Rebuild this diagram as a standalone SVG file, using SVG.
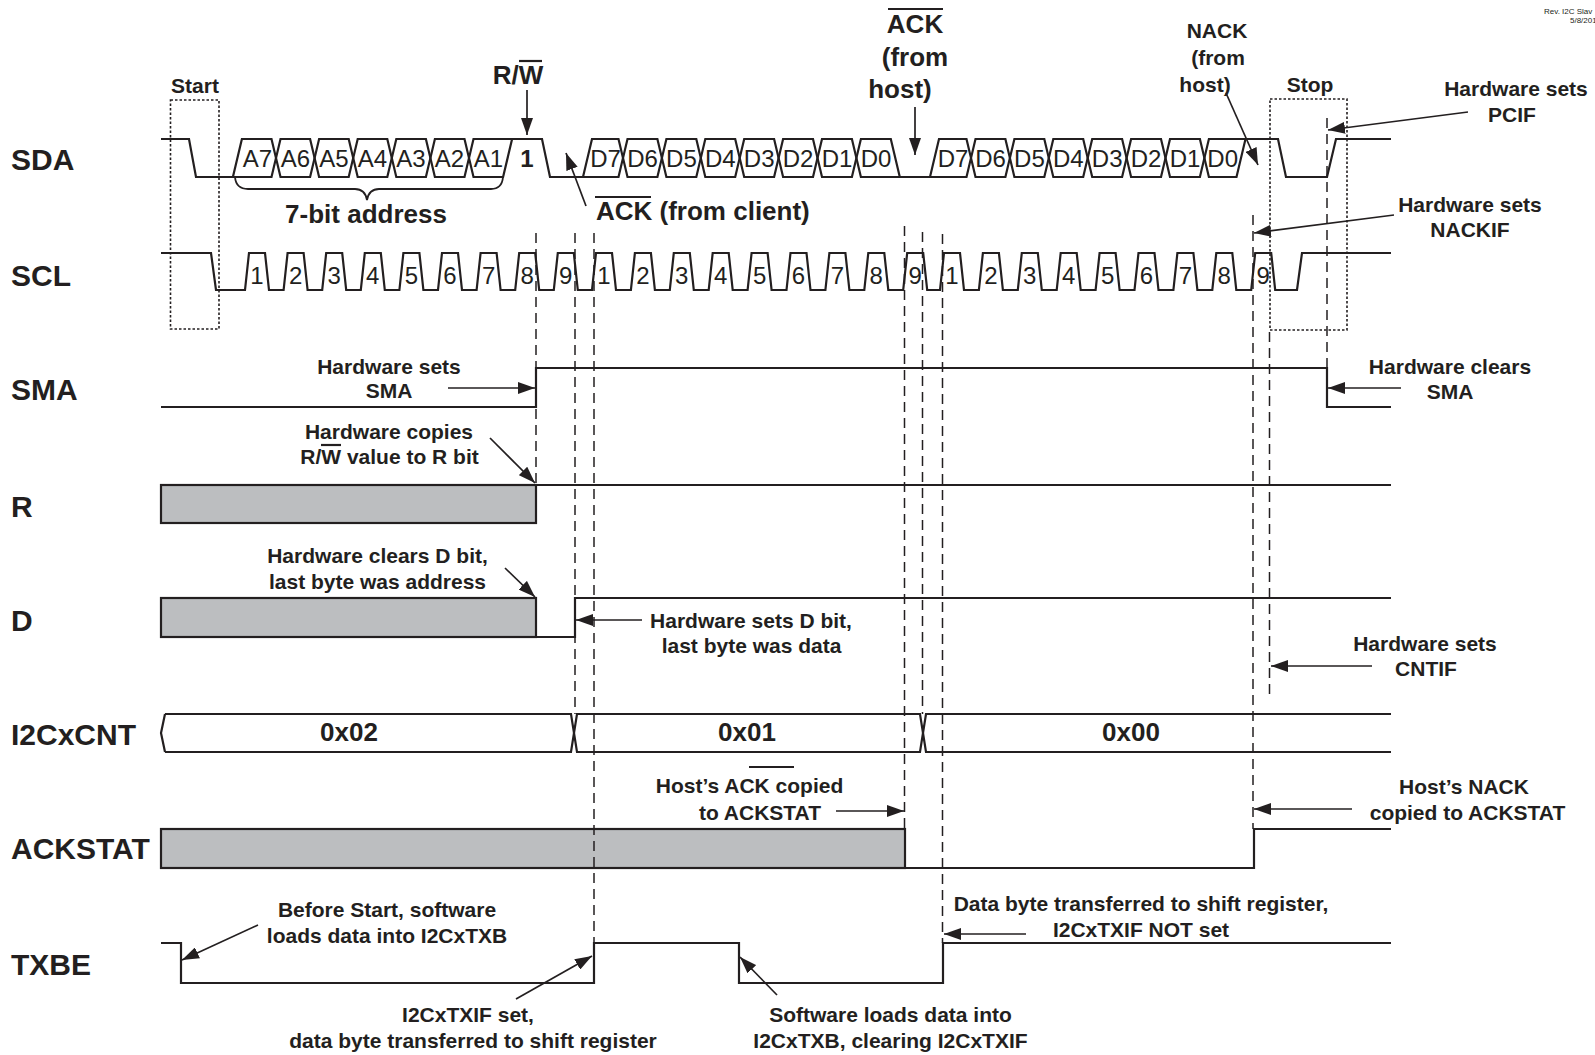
<svg xmlns="http://www.w3.org/2000/svg" width="1595" height="1055" viewBox="0 0 1595 1055">
<defs>
<style>
.sig{fill:none;stroke:#231f20;stroke-width:2.2;stroke-linejoin:miter}
.gray{fill:#bcbec0;stroke:#231f20;stroke-width:2.2}
.dash{fill:none;stroke:#231f20;stroke-width:1.5;stroke-dasharray:10 6}
.dot{fill:none;stroke:#231f20;stroke-width:1.6;stroke-dasharray:2.5 2}
.arr{fill:none;stroke:#231f20;stroke-width:1.7;marker-end:url(#ah)}
.ovl{stroke:#231f20;stroke-width:2.2}
text{font-family:"Liberation Sans",Arial,sans-serif;fill:#231f20}
.lbl{font-weight:bold;font-size:30px}
.ann{font-weight:bold;font-size:21px;text-anchor:middle}
.big{font-weight:bold;font-size:26px;text-anchor:middle}
.cell{font-size:24px;text-anchor:middle}
.tiny{font-size:8px}
</style>
<marker id="ah" viewBox="0 0 17 12" refX="17" refY="6" markerWidth="17" markerHeight="12" markerUnits="userSpaceOnUse" orient="auto"><path d="M0,0 L17,6 L0,12 z" fill="#231f20"/></marker>
</defs>
<rect width="1595" height="1055" fill="#fff"/>

<g id="row-labels">
<text class="lbl" x="11" y="170">SDA</text>
<text class="lbl" x="11" y="286">SCL</text>
<text class="lbl" x="11" y="400">SMA</text>
<text class="lbl" x="11" y="517">R</text>
<text class="lbl" x="11" y="631">D</text>
<text class="lbl" x="11" y="745">I2CxCNT</text>
<text class="lbl" x="11" y="859">ACKSTAT</text>
<text class="lbl" x="11" y="975">TXBE</text>
</g>

<g id="sda">
<path class="sig" d="M161,139 H189 L196,177 H271.5 L280.5,139 H310.1 L319.1,177 H348.7 L357.7,139 H387.3 L396.3,177 H425.9 L434.9,139 H464.5 L473.5,177 H503.1 L512.1,139"/>
<path class="sig" d="M232.9,177 L241.9,139 H271.5 L280.5,177 H310.1 L319.1,139 H348.7 L357.7,177 H387.3 L396.3,139 H425.9 L434.9,177 H464.5 L473.5,139 H542 L550,177 H583 L592,139 H618.5 L627.5,177 H657.4 L666.4,139 H696.3 L705.3,177 H735.2 L744.2,139 H774.1 L783.1,177 H813 L822,139 H851.9 L860.9,177 H930 L939,139 H966.5 L975.5,177 H1005.4 L1014.4,139 H1044.3 L1053.3,177 H1083.2 L1092.2,139 H1122.1 L1131.1,177 H1161 L1170,139 H1199.9 L1208.9,177 H1236.5 L1245.5,139 H1278 L1286,177 H1327 L1336,139 H1391"/>
<path class="sig" d="M583,177 H618.5 L627.5,139 H657.4 L666.4,177 H696.3 L705.3,139 H735.2 L744.2,177 H774.1 L783.1,139 H813 L822,177 H851.9 L860.9,139 H890.8 L899.8,177"/>
<path class="sig" d="M930,177 H966.5 L975.5,139 H1005.4 L1014.4,177 H1044.3 L1053.3,139 H1083.2 L1092.2,177 H1122.1 L1131.1,139 H1161 L1170,177 H1199.9 L1208.9,139 H1245.5"/>
<text class="cell" x="257.5" y="167">A7</text>
<text class="cell" x="295.5" y="167">A6</text>
<text class="cell" x="334" y="167">A5</text>
<text class="cell" x="372.5" y="167">A4</text>
<text class="cell" x="411" y="167">A3</text>
<text class="cell" x="449.5" y="167">A2</text>
<text class="cell" x="488.5" y="167">A1</text>
<text class="cell" x="527" y="167" font-weight="bold">1</text>
<text class="cell" x="605.5" y="167">D7</text>
<text class="cell" x="642.5" y="167">D6</text>
<text class="cell" x="681.4" y="167">D5</text>
<text class="cell" x="720.3" y="167">D4</text>
<text class="cell" x="759.2" y="167">D3</text>
<text class="cell" x="798.1" y="167">D2</text>
<text class="cell" x="837" y="167">D1</text>
<text class="cell" x="876" y="167">D0</text>
<text class="cell" x="953" y="167">D7</text>
<text class="cell" x="990.5" y="167">D6</text>
<text class="cell" x="1029.4" y="167">D5</text>
<text class="cell" x="1068.3" y="167">D4</text>
<text class="cell" x="1107.2" y="167">D3</text>
<text class="cell" x="1146" y="167">D2</text>
<text class="cell" x="1185" y="167">D1</text>
<text class="cell" x="1222.7" y="167">D0</text>
</g>

<g id="scl">
<path class="sig" d="M161,253 H211 L216,290 H245 L249,253 H265 L269,290 H283.6 L287.6,253 H303.6 L307.6,290 H322.2 L326.2,253 H342.2 L346.2,290 H360.8 L364.8,253 H380.8 L384.8,290 H399.4 L403.4,253 H419.4 L423.4,290 H438 L442,253 H458 L462,290 H476.6 L480.6,253 H496.6 L500.6,290 H515.2 L519.2,253 H535.2 L539.2,290 H553.8 L557.8,253 H573.8 L577.8,290 H592 L596,253 H612 L616,290 H630.9 L634.9,253 H650.9 L654.9,290 H669.8 L673.8,253 H689.8 L693.8,290 H708.7 L712.7,253 H728.7 L732.7,290 H747.6 L751.6,253 H767.6 L771.6,290 H786.5 L790.5,253 H806.5 L810.5,290 H825.4 L829.4,253 H845.4 L849.4,290 H864.3 L868.3,253 H884.3 L888.3,290 H903.2 L907.2,253 H923.2 L927.2,290 H940 L944,253 H960 L964,290 H978.9 L982.9,253 H998.9 L1002.9,290 H1017.8 L1021.8,253 H1037.8 L1041.8,290 H1056.7 L1060.7,253 H1076.7 L1080.7,290 H1095.6 L1099.6,253 H1115.6 L1119.6,290 H1134.5 L1138.5,253 H1154.5 L1158.5,290 H1173.4 L1177.4,253 H1193.4 L1197.4,290 H1212.3 L1216.3,253 H1232.3 L1236.3,290 H1251.2 L1255.2,253 H1271.2 L1275.2,290 H1297 L1302,253 H1391"/>
<text class="cell" x="257" y="284">1</text>
<text class="cell" x="295.6" y="284">2</text>
<text class="cell" x="334.2" y="284">3</text>
<text class="cell" x="372.8" y="284">4</text>
<text class="cell" x="411.4" y="284">5</text>
<text class="cell" x="450" y="284">6</text>
<text class="cell" x="488.6" y="284">7</text>
<text class="cell" x="527.2" y="284">8</text>
<text class="cell" x="565.8" y="284">9</text>
<text class="cell" x="604" y="284">1</text>
<text class="cell" x="642.9" y="284">2</text>
<text class="cell" x="681.8" y="284">3</text>
<text class="cell" x="720.7" y="284">4</text>
<text class="cell" x="759.6" y="284">5</text>
<text class="cell" x="798.5" y="284">6</text>
<text class="cell" x="837.4" y="284">7</text>
<text class="cell" x="876.3" y="284">8</text>
<text class="cell" x="915.2" y="284">9</text>
<text class="cell" x="952" y="284">1</text>
<text class="cell" x="990.9" y="284">2</text>
<text class="cell" x="1029.8" y="284">3</text>
<text class="cell" x="1068.7" y="284">4</text>
<text class="cell" x="1107.6" y="284">5</text>
<text class="cell" x="1146.5" y="284">6</text>
<text class="cell" x="1185.4" y="284">7</text>
<text class="cell" x="1224.3" y="284">8</text>
<text class="cell" x="1263.2" y="284">9</text>
</g>

<g id="sma">
<path class="sig" d="M161,407 H536 V368 H1327 V407 H1391"/>
</g>
<g id="r">
<rect class="gray" x="161" y="485" width="375" height="38"/>
<path class="sig" d="M536,485 H1391"/>
</g>
<g id="d">
<rect class="gray" x="161" y="598" width="375" height="39"/>
<path class="sig" d="M536,637 H575 V598 H1391"/>
</g>
<g id="i2ccnt">
<path class="sig" d="M165,714 L161,733 L165,752"/>
<path class="sig" d="M165,714 H571 L577,752 H920 L926,714 H1391"/>
<path class="sig" d="M165,752 H571 L577,714 H920 L926,752 H1391"/>
<text class="big" x="349" y="741" font-size="25">0x02</text>
<text class="big" x="747" y="741" font-size="25">0x01</text>
<text class="big" x="1131" y="741" font-size="25">0x00</text>
</g>
<g id="ackstat">
<rect class="gray" x="161" y="829" width="744" height="39"/>
<path class="sig" d="M905,868 H1254 V829 H1391"/>
</g>
<g id="txbe">
<path class="sig" d="M161,943 H181 V983 H594 V943 H739 V983 H943 V943 H1391"/>
</g>

<g id="guides">
<rect class="dot" x="170.5" y="100" width="48.5" height="229"/>
<rect class="dot" x="1270" y="99" width="77" height="231"/>
<line class="dash" x1="536" y1="233" x2="536" y2="485"/>
<line class="dash" x1="575" y1="233" x2="575" y2="714"/>
<line class="dash" x1="594" y1="233" x2="594" y2="943"/>
<line class="dash" x1="904.5" y1="226" x2="904.5" y2="829"/>
<line class="dash" x1="922.5" y1="232" x2="922.5" y2="714"/>
<line class="dash" x1="942.5" y1="234" x2="942.5" y2="943"/>
<line class="dash" x1="1253" y1="215" x2="1253" y2="829"/>
<line class="dash" x1="1269.5" y1="332" x2="1269.5" y2="696"/>
<line class="dash" x1="1327" y1="118" x2="1327" y2="368"/>
<path d="M235,177 Q236,189 248,189 H355 Q365,189 367,200 Q369,189 379,189 H491 Q502,189 503,177" fill="none" stroke="#231f20" stroke-width="1.8"/>
</g>

<g id="connectors">
<line class="arr" x1="527" y1="90" x2="527" y2="135"/>
<line class="arr" x1="586" y1="206" x2="566" y2="153"/>
<line class="arr" x1="915" y1="107" x2="915" y2="155"/>
<line class="arr" x1="1226" y1="93" x2="1258" y2="165"/>
<line class="arr" x1="1468" y1="112" x2="1328" y2="130"/>
<line class="arr" x1="1394" y1="215" x2="1254" y2="233"/>
<line class="arr" x1="448" y1="388" x2="535" y2="388"/>
<line class="arr" x1="490" y1="438" x2="535" y2="483"/>
<line class="arr" x1="505" y1="568" x2="535" y2="597"/>
<line class="arr" x1="642" y1="620" x2="576" y2="620"/>
<line class="arr" x1="1401" y1="388" x2="1328" y2="388"/>
<line class="arr" x1="1372" y1="666" x2="1271" y2="666"/>
<line class="arr" x1="836" y1="811" x2="904" y2="811"/>
<line class="arr" x1="1352" y1="809" x2="1254" y2="809"/>
<line class="arr" x1="258" y1="925" x2="182" y2="960"/>
<line class="arr" x1="516" y1="999" x2="592" y2="956"/>
<line class="arr" x1="777" y1="995" x2="740" y2="957"/>
<line class="arr" x1="1026" y1="934" x2="944" y2="934"/>
</g>

<g id="ann-start"><text class="ann" x="195" y="93" font-size="20">Start</text></g>
<g id="ann-rw">
<text class="big" x="518" y="84" font-size="25">R/W</text>
<line class="ovl" x1="519" y1="61" x2="542" y2="61"/>
</g>
<g id="ann-7bit"><text class="big" x="366" y="223">7-bit address</text></g>
<g id="ann-ack-client">
<text class="big" x="596" y="220" style="text-anchor:start">ACK (from client)</text>
<line class="ovl" x1="595" y1="197" x2="651" y2="197"/>
</g>
<g id="ann-ack-host">
<text class="big" x="915" y="33">ACK</text>
<line class="ovl" x1="888" y1="9" x2="943" y2="9"/>
<text class="big" x="915" y="66">(from</text>
<text class="big" x="900" y="98">host)</text>
</g>
<g id="ann-nack-host">
<text class="ann" x="1217" y="38">NACK</text>
<text class="ann" x="1218" y="65">(from</text>
<text class="ann" x="1205" y="92">host)</text>
</g>
<g id="ann-stop"><text class="ann" x="1310" y="92">Stop</text></g>
<g id="ann-pcif">
<text class="ann" x="1516" y="96">Hardware sets</text>
<text class="ann" x="1512" y="122">PCIF</text>
</g>
<g id="ann-nackif">
<text class="ann" x="1470" y="212">Hardware sets</text>
<text class="ann" x="1470" y="237">NACKIF</text>
</g>
<g id="ann-sma-set">
<text class="ann" x="389" y="374">Hardware sets</text>
<text class="ann" x="389" y="398">SMA</text>
</g>
<g id="ann-r-copy">
<text class="ann" x="389" y="439">Hardware copies</text>
<text class="ann" x="389.5" y="464">R/W value to R bit</text>
<line class="ovl" x1="321" y1="445" x2="341" y2="445" stroke-width="2"/>
</g>
<g id="ann-d-clear">
<text class="ann" x="377.5" y="563">Hardware clears D bit,</text>
<text class="ann" x="377.5" y="589">last byte was address</text>
</g>
<g id="ann-d-set">
<text class="ann" x="751" y="628">Hardware sets D bit,</text>
<text class="ann" x="751.5" y="653">last byte was data</text>
</g>
<g id="ann-sma-clear">
<text class="ann" x="1450" y="374">Hardware clears</text>
<text class="ann" x="1450" y="399">SMA</text>
</g>
<g id="ann-cntif">
<text class="ann" x="1425" y="651">Hardware sets</text>
<text class="ann" x="1426" y="676">CNTIF</text>
</g>
<g id="ann-host-ack">
<text class="ann" x="749.5" y="793">Host’s ACK copied</text>
<line class="ovl" x1="749" y1="767" x2="794" y2="767" stroke-width="2"/>
<text class="ann" x="760" y="820">to ACKSTAT</text>
</g>
<g id="ann-host-nack">
<text class="ann" x="1464" y="794">Host’s NACK</text>
<text class="ann" x="1467.5" y="820">copied to ACKSTAT</text>
</g>
<g id="ann-before-start">
<text class="ann" x="387" y="917">Before Start, software</text>
<text class="ann" x="387" y="943">loads data into I2CxTXB</text>
</g>
<g id="ann-txif-set">
<text class="ann" x="468" y="1022">I2CxTXIF set,</text>
<text class="ann" x="473" y="1048">data byte transferred to shift register</text>
</g>
<g id="ann-sw-loads">
<text class="ann" x="890.5" y="1022">Software loads data into</text>
<text class="ann" x="890.5" y="1048">I2CxTXB, clearing I2CxTXIF</text>
</g>
<g id="ann-data-byte">
<text class="ann" x="1141" y="911">Data byte transferred to shift register,</text>
<text class="ann" x="1141" y="937">I2CxTXIF NOT set</text>
</g>
<g id="rev">
<text class="tiny" x="1544" y="14">Rev. I2C Slav</text>
<text class="tiny" x="1570" y="23">5/8/201</text>
</g>
</svg>
